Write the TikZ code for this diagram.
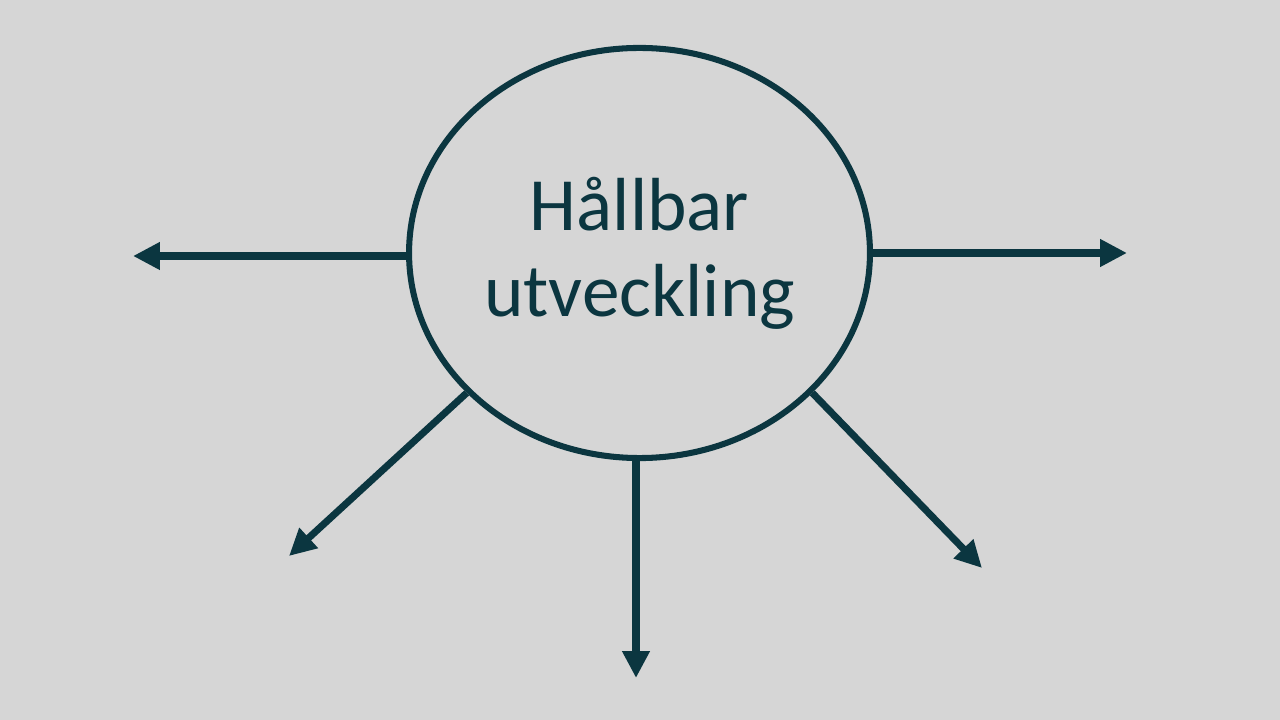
\documentclass[tikz,border=0pt]{standalone}
\usepackage{fontspec}
\setmainfont{Carlito}
\usetikzlibrary{shapes, arrows.meta, positioning}
\definecolor{tealdark}{HTML}{0B3640}
\definecolor{bggray}{HTML}{D6D6D6}

\begin{document}
\begin{tikzpicture}[x=0.025cm, y=-0.025cm]
        % styles for the hub and the arrows
        \tikzstyle{hub} = [ellipse, draw=tealdark, line width=4.3pt, minimum width=11.52cm, minimum height=10.25cm, inner sep=0pt, text=tealdark, align=center, font=\fontsize{53.5}{61}\selectfont]
        \tikzstyle{arrow} = [draw=tealdark, line width=5pt, -{Triangle[length=6.7mm, width=6.5mm]}]

        % background
        \fill [bggray] (0,0) rectangle (1280,720);

        % centre ellipse
        \node (hub) [hub] at (639.5,253) {Hållbar\\utveckling};

        % free ends of the arrows
        \coordinate (west_end) at (133,256);
        \coordinate (east_end) at (1127,253);
        \coordinate (southwest_end) at (289,556);
        \coordinate (south_end) at (636,678);
        \coordinate (southeast_end) at (982,568);

        % arrows
        \draw [arrow] (hub.west |- west_end) -- (west_end);
        \draw [arrow] (hub.east) -- (east_end);
        \draw [arrow] (hub.219) -- (southwest_end);
        \draw [arrow] (hub.south -| south_end) -- (south_end);
        \draw [arrow] (hub.321) -- (southeast_end);

    \end{tikzpicture}
\end{document}
